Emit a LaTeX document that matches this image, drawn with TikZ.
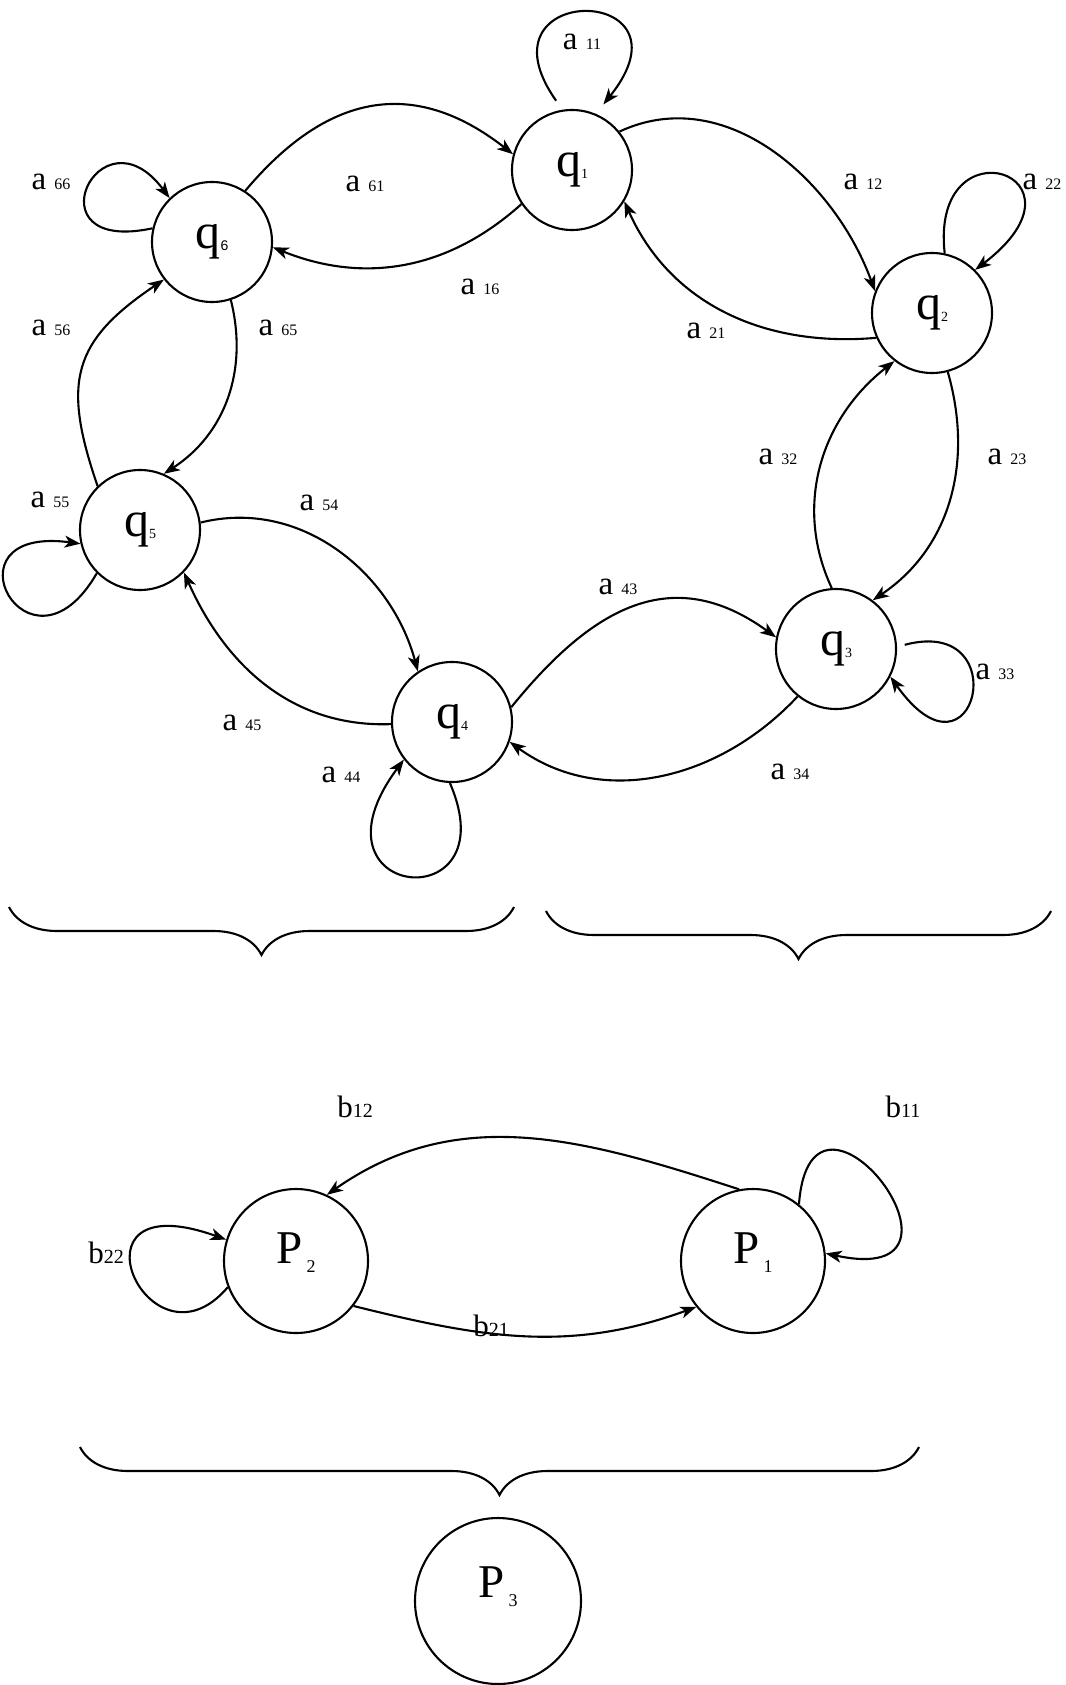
\documentclass[tikz,border=0pt]{standalone}
\usepackage{fontspec}
\setmainfont{Liberation Serif}
\newfontfamily\digitsans{Liberation Sans}
\usetikzlibrary{arrows.meta, decorations.pathreplacing}

\newcommand{\qlab}[1]{q\raisebox{-2pt}{\fontsize{14}{14}\selectfont #1}}
\newcommand{\alab}[1]{a {\fontsize{16}{16}\selectfont #1}}
\newcommand{\blab}[1]{b{\fontsize{20}{20}\selectfont #1}}
\newcommand{\plab}[1]{P\kern4pt\raisebox{-9pt}{\fontsize{18}{18}\selectfont #1}}

\begin{document}
\begin{tikzpicture}[x=1pt, y=1pt, >={Stealth[length=16pt, width=12pt, inset=4.5pt]}, line width=2.1pt,
        qnode/.style={circle, draw, minimum size=120pt, inner sep=0pt, font=\fontsize{50}{50}\selectfont},
        pnode/.style={circle, draw, minimum size=144pt, inner sep=0pt, font=\fontsize{47}{47}\selectfont, text height=32pt, text depth=28pt},
        lbl/.style={anchor=base, inner sep=0pt, font=\fontsize{33}{33}\selectfont},
        blbl/.style={anchor=base, inner sep=0pt, font=\fontsize{31}{31}\selectfont},
        brc/.style={decorate, decoration={brace, mirror, amplitude=48pt}}]

    \useasboundingbox (0,0) rectangle (1065,-1685);

    % states of the ring
    \node (q1) [qnode] at (572,-170) {\qlab{1}};
    \node (q2) [qnode] at (932,-313) {\qlab{2}};
    \node (q3) [qnode] at (836,-649) {\qlab{3}};
    \node (q4) [qnode] at (452,-722) {\qlab{4}};
    \node (q5) [qnode] at (140,-530) {\qlab{5}};
    \node (q6) [qnode] at (212,-242) {q\raisebox{-2pt}{\fontsize{14}{14}\digitsans\selectfont 6}};

    % lumped states
    \node (P2) [pnode] at (296,-1261) {\plab{2}};
    \node (P1) [pnode] at (753,-1261) {\plab{1}};
    \node (P3) [pnode, minimum size=166pt, text depth=40pt] at (498,-1601) {\plab{3}};

    % transitions between states
    \draw[->] (q1.39) to[out=25, in=110] (q2.159);
    \draw[->] (q2.204) to[out=185, in=-66] (q1.-31);
    \draw[->] (q6.57) to[out=50, in=142, looseness=1.2] (q1.165);
    \draw[->] (q1.214) to[out=222, in=-22] (q6.-5);
    \draw[->] (q6.-72) to[out=-76, in=33] (q5.67);
    \draw[->] (q5.134) to[out=109, in=214, looseness=1.3] (q6.218);
    \draw[->] (q5.7) to[out=14, in=105] (q4.124);
    \draw[->] (q4.182) to[out=182, in=-66] (q5.-44);
    \draw[->] (q4.14) to[out=51, in=144, looseness=1.2] (q3.169);
    \draw[->] (q3.231) to[out=227, in=-36] (q4.-19);
    \draw[->] (q3.94) to[out=115, in=218] (q2.232);
    \draw[->] (q2.-75) to[out=-74, in=34] (q3.53);
    \draw[->] (P1.101) to[out=162, in=35] (P2.65);
    \draw[->] (P2.-38) to[out=-14, in=200] (P1.219);

    % self loops
    \draw[->, shorten <=11pt, shorten >=12pt] (q1.99) .. controls +(-91,129) and +(105,131) .. (q1.67);
    \draw[->] (q2.78) .. controls +(-15,134) and +(126,96) .. (q2.45);
    \draw[->, shorten <=8pt] (q3.2) .. controls +(120,32) and +(85,-120) .. (q3.-27);
    \draw[->] (q4.-92) .. controls +(60,-138) and +(-105,-141) .. (q4.218);
    \draw[->] (q5.225) .. controls +(-68,-118) and +(-142,19) .. (q5.193);
    \draw[->] (q6.167) .. controls +(-125,-27) and +(-70,94) .. (q6.134);
    \draw[->] (P1.51) .. controls +(12,160) and +(172,-37) .. (P1.6);
    \draw[->] (P2.201) .. controls +(-79,-93) and +(-167,60) .. (P2.163);

    % labels
    \node (l11) [lbl] at (582,-50) {\alab{11}};
    \node (l12) [lbl] at (863,-190) {\alab{12}};
    \node (l22) [lbl] at (1042,-190) {\alab{22}};
    \node (l21) [lbl] at (706,-338) {\alab{21}};
    \node (l16) [lbl] at (480,-295) {\alab{16}};
    \node (l61) [lbl] at (365,-192) {\alab{61}};
    \node (l66) [lbl] at (51,-190) {\alab{66}};
    \node (l56) [lbl] at (51,-335) {\alab{56}};
    \node (l65) [lbl] at (278,-335) {\alab{65}};
    \node (l32) [lbl] at (778,-464) {\alab{32}};
    \node (l23) [lbl] at (1007,-464) {\alab{23}};
    \node (l55) [lbl] at (50,-507) {\alab{55}};
    \node (l54) [lbl] at (319,-510) {\alab{54}};
    \node (l43) [lbl] at (618,-594) {\alab{43}};
    \node (l33) [lbl] at (995,-679) {\alab{33}};
    \node (l45) [lbl] at (242,-730) {\alab{45}};
    \node (l34) [lbl] at (790,-779) {\alab{34}};
    \node (l44) [lbl] at (341,-782) {\alab{44}};
    \node (m12) [blbl] at (355,-1117) {\blab{12}};
    \node (m11) [blbl] at (903,-1117) {\blab{11}};
    \node (m21) [blbl] at (491,-1336) {\blab{21}};
    \node (m22) [blbl] at (106,-1263) {\blab{22}};

    % braces
    \coordinate (bl1) at (9,-907);
    \coordinate (bl2) at (514,-907);
    \coordinate (br1) at (546,-911);
    \coordinate (br2) at (1051,-911);
    \coordinate (bb1) at (80,-1447);
    \coordinate (bb2) at (919,-1447);
    \draw[brc] (bl1) -- (bl2);
    \draw[brc] (br1) -- (br2);
    \draw[brc] (bb1) -- (bb2);
\end{tikzpicture}
\end{document}
